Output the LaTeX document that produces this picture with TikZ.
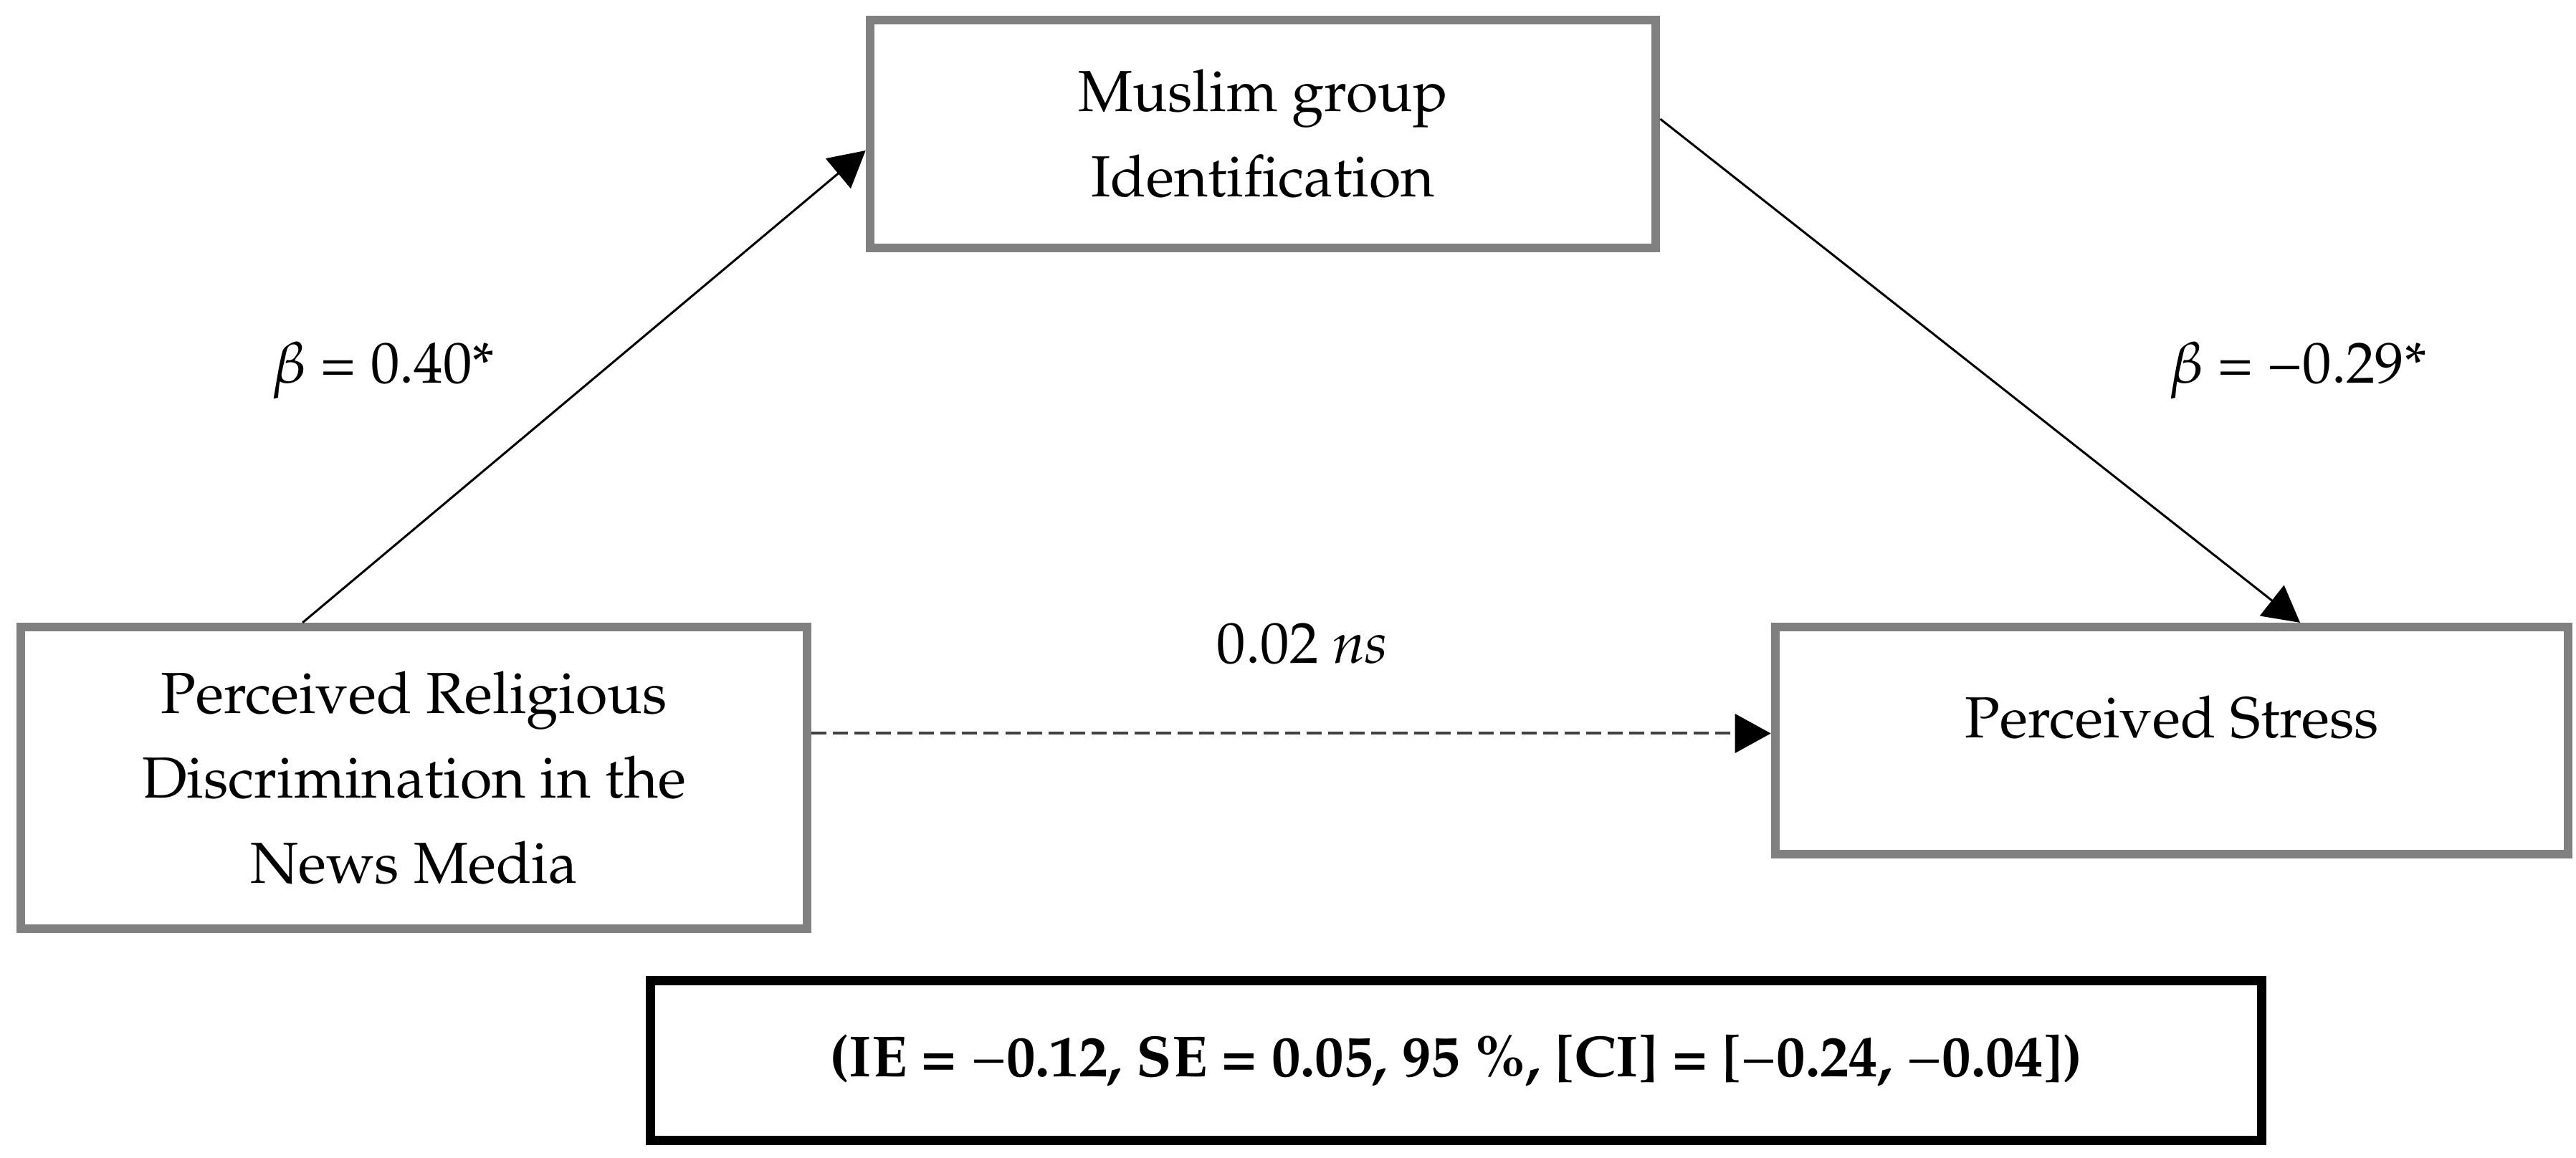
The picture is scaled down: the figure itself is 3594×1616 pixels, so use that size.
\documentclass[tikz,border=0pt]{standalone}
\usepackage[T1]{fontenc}
\usepackage{mathpazo}
\usetikzlibrary{arrows.meta,calc}
\newcommand{\thinminus}{{\mdseries\textminus}}
\tikzset{
  varbox/.style={draw=gray, line width=0.12cm, align=center, font=\fontsize{23}{33.8}\selectfont},
  resbox/.style={draw=black, line width=0.13cm, font=\fontsize{23}{33.8}\selectfont\bfseries},
  coef/.style={anchor=base, font=\fontsize{23}{33.8}\selectfont},
  arr/.style={-{Triangle[length=0.5cm,width=0.54cm,color=black]}, line width=0.03cm},
  nsline/.style={draw=black!75, line width=0.04cm, dash pattern=on 0.21cm off 0.09cm}
}
\begin{document}
\begin{tikzpicture}[x=0.01cm, y=-0.01cm]
    \useasboundingbox (0,0) rectangle (3594,1616);
    \node[varbox, minimum width=10.96cm, minimum height=3.18cm] (mig) at (1762,187) {Muslim group\\Identification};
    \node[varbox, minimum width=10.97cm, minimum height=4.21cm] (prd) at (577.5,1085.5) {Perceived Religious\\Discrimination in the\\News Media};
    \node[varbox, minimum width=11.06cm, minimum height=3.17cm, text depth=0.66cm] (ps) at (3030,1033.5) {Perceived Stress};
    \node[resbox, minimum width=22.47cm, minimum height=2.22cm] (res) at (2031.5,1480) {(IE = \thinminus0.12, SE = 0.05, 95 \%, [CI] = [\thinminus0.24, \thinminus0.04])};
    \node[coef] (ca) at (535,535) {$\beta$ = 0.40*};
    \node[coef] (cb) at (3206,535) {$\beta$ = \textminus0.29*};
    \node[coef] (cc) at (1817,925) {0.02 \textit{ns}};
    \coordinate (pin) at ([yshift=0.1cm]ps.west);
    \draw[arr] ($(prd.north west)!0.36!(prd.north east)$) -- ([yshift=-0.23cm]mig.west);
    \draw[arr] ([yshift=0.21cm]mig.east) -- ($(ps.north west)!0.66!(ps.north east)$);
    \draw[arr, nsline] (prd.east |- pin) -- (pin);
\end{tikzpicture}
\end{document}
